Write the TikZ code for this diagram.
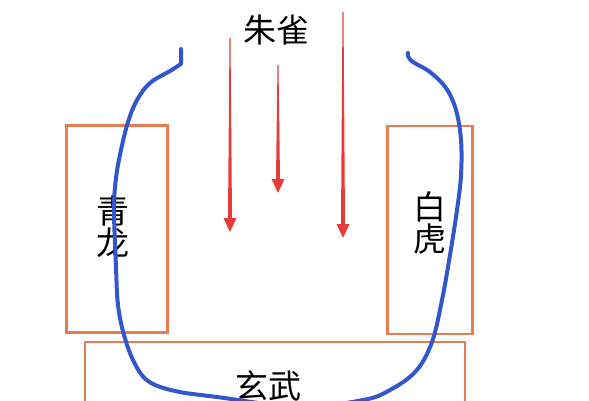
\documentclass[tikz,border=0pt]{standalone}
\usepackage{fontspec}
\setmainfont{Noto Sans CJK SC}
\usepackage{tikz}
\usepackage{xcolor}
\definecolor{box_orange}{RGB}{230,124,82}
\definecolor{flow_red}{RGB}{232,58,58}
\definecolor{ring_blue}{RGB}{52,86,204}
\colorlet{label_text}{black}

\begin{document}
\begin{tikzpicture}[
    x=1pt, y=-1pt,
    beast-box/.style={draw=box_orange, line width=2.8pt, inner sep=0pt},
    beast-label/.style={color=label_text, font=\fontsize{33}{32}\selectfont, align=center, inner sep=0pt},
    flow-arrow/.style={fill=flow_red},
    ring/.style={draw=ring_blue, line width=4pt, line cap=round, line join=round},
  ]
  %%%%%%%%%% Frame %%%%%%%%%%
  \useasboundingbox (0,0) rectangle (589,400);
  \clip (0,0) rectangle (589,400);

  %%%%%%%%%% Boxes %%%%%%%%%%
  \node[beast-box, minimum width=101pt, minimum height=207pt] (qinglong) at (117,229) {};
  \node[beast-box, minimum width=85pt, minimum height=208pt] (baihu) at (430,230) {};
  \node[beast-box, minimum width=380pt, minimum height=100pt] (xuanwu) at (275,392) {};

  %%%%%%%%%% Labels %%%%%%%%%%
  \node[beast-label] (zhuque-text) at (276,30) {朱雀};
  \node[beast-label] (qinglong-text) at (113,227) {青\\龙};
  \node[beast-label] (baihu-text) at (430,223) {白\\虎};
  \node[beast-label] (xuanwu-text) at (268,386) {玄武};

  %%%%%%%%%% Arrows from the south %%%%%%%%%%
  \foreach \sx/\sy/\ty in {230/38/232, 278/65/193, 343/12/238} {
    \fill[flow-arrow] (\sx-0.5,\sy) -- (\sx+0.5,\sy) -- (\sx+2,\ty-14)
      -- (\sx+6.5,\ty-14) -- (\sx,\ty) -- (\sx-6.5,\ty-14) -- (\sx-2,\ty-14) -- cycle;
  }

  %%%%%%%%%% Embracing ring %%%%%%%%%%
  \draw[ring] (181,49) -- (181,64) -- plot[smooth, tension=0.6] coordinates {
    (181,64) (170,71) (150,83) (137,100) (128,122) (121,150) (116,178)
    (114,210) (116,267) (118,305) (124,335) (134,362) (148,381) (175,391)
    (217,397) (300,407) (363,400) (390,390) (416,371) (432,342) (442,300)
    (450,255) (457,210) (461,175) (461,140) (456,110) (446,88)
    (430,72) (413,62) (408,56) (408,53)
  };

\end{tikzpicture}
\end{document}
